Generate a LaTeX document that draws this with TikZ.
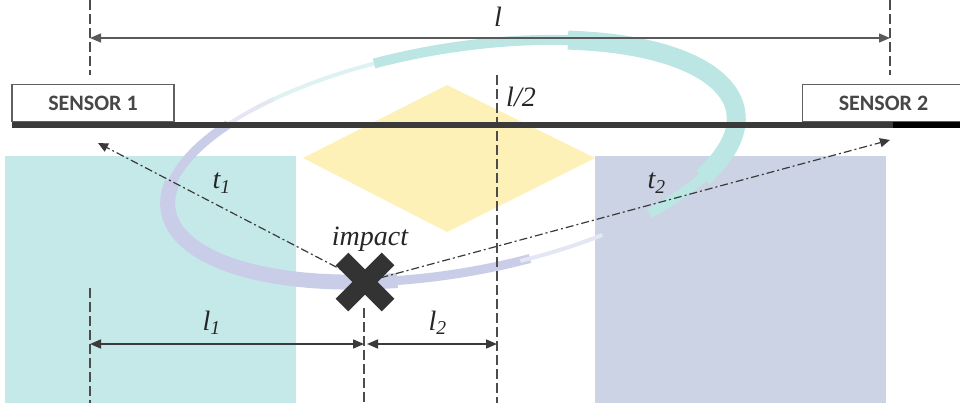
\documentclass[tikz,border=0pt]{standalone}
\usepackage{fontspec}
\setmainfont{Liberation Serif}
\newfontfamily\sensfont{Carlito}
\usetikzlibrary{arrows.meta,positioning}
\definecolor{wmteal}{HTML}{C5E9E8}
\definecolor{wmblue}{HTML}{CBD3E5}
\definecolor{wmyellow}{HTML}{FDF1B8}
\definecolor{wmring}{HTML}{BCE6E4}
\definecolor{wmlav}{HTML}{C9CDE8}
\definecolor{lineg}{HTML}{3A3A3A}

\begin{document}
\begin{tikzpicture}[x=0.5pt,y=0.5pt,
  sensor/.style={draw=lineg!80,line width=0.6pt,fill=white,minimum width=81pt,
    minimum height=18.5pt,inner sep=0pt,font=\sensfont\bfseries\fontsize{11}{13}\selectfont,text=black!72},
  lbl/.style={font=\itshape\fontsize{14}{16}\selectfont,inner sep=1pt,text=black!85},
  guide/.style={draw=black!70,line width=0.6pt,dash pattern=on 5pt off 2pt},
  dimarr/.style={{Triangle[length=5.5pt,width=4.5pt]}-{Triangle[length=5.5pt,width=4.5pt]},line width=0.8pt,lineg},
  ray/.style={-{Triangle[length=5pt,width=4.5pt]},line width=0.6pt,lineg,
    dash pattern=on 4pt off 1.5pt on 1pt off 1.5pt},
  ring/.style={line width=#1}]
  \useasboundingbox (0,0) rectangle (960,403);
  % watermark
  \fill[wmteal] (5,0) rectangle (296,247);
  \fill[wmblue] (595,0) rectangle (886,247);
  \fill[wmyellow] (303,245) -- (447,318) -- (595,245) -- (447,171) -- cycle;
  \begin{scope}[shift={(452,242)},rotate=10]
    \draw[ring=2pt,wmring!50] (130:144pt and 56pt) arc[start angle=130,end angle=100,x radius=144pt,y radius=56pt];
    \draw[ring=5pt,wmring] (102:144pt and 56pt) arc[start angle=102,end angle=60,x radius=144pt,y radius=56pt];
    \draw[ring=9.5pt,wmring] (62:144pt and 56pt) arc[start angle=62,end angle=-32,x radius=144pt,y radius=56pt];
    \draw[ring=5pt,wmring] (-30:144pt and 56pt) arc[start angle=-30,end angle=-50,x radius=144pt,y radius=56pt];
    \draw[ring=2pt,wmlav!50] (125:144pt and 56pt) arc[start angle=125,end angle=140,x radius=144pt,y radius=56pt];
    \draw[ring=4.5pt,wmlav] (138:144pt and 56pt) arc[start angle=138,end angle=168,x radius=144pt,y radius=56pt];
    \draw[ring=7.5pt,wmlav] (166:144pt and 56pt) arc[start angle=166,end angle=255,x radius=144pt,y radius=56pt];
    \draw[ring=4.5pt,wmlav] (253:144pt and 56pt) arc[start angle=253,end angle=282,x radius=144pt,y radius=56pt];
    \draw[ring=2pt,wmlav!50] (280:144pt and 56pt) arc[start angle=280,end angle=298,x radius=144pt,y radius=56pt];
  \end{scope}

  \coordinate (imp) at (365,121);
  \coordinate (tipA) at (98,260);
  \coordinate (tipB) at (890,263);
  \coordinate (lL) at (90,365);
  \coordinate (lR) at (890,365);
  \coordinate (bL) at (90,59);
  \coordinate (bM) at (364,59);
  \coordinate (bN) at (367,59);
  \coordinate (bR) at (497,59);

  \draw[guide] (90,403) -- (90,328);
  \draw[guide] (890,403) -- (890,328);
  \draw[guide] (497,328) -- (497,0);
  \draw[guide] (90,115) -- (90,0);
  \draw[guide] (364,95) -- (364,0);

  \node[sensor] (sen1) at (93,300) {SENSOR 1};
  \node[sensor] (sen2) at (883.5,300) {SENSOR 2};
  \draw[lineg,line width=3.3pt] (12,278) -- (960,278);
  \draw[black,line width=3.3pt] (893,278) -- (960,278);

  \draw[dimarr,black!65,line width=0.7pt] (lL) -- (lR);
  \node[lbl] (ltot) at (498,386) {l};
  \node[lbl] (lhalf) at (521,306) {l/2};

  \draw[ray] (imp) -- (tipA);
  \draw[ray] (imp) -- (tipB);
  \node[lbl] (tA) at (222,220) {t\textsubscript{1}};
  \node[lbl] (tB) at (657,220) {t\textsubscript{2}};

  \draw[black!80,line width=9pt] (imp) ++(-23,-23) -- ++(46,46) (imp) ++(-23,23) -- ++(46,-46);
  \node[lbl,anchor=base] (implbl) at (370,158) {impact};

  \draw[dimarr] (bL) -- (bM);
  \draw[dimarr] (bN) -- (bR);
  \node[lbl] (lA) at (212,80) {l\textsubscript{1}};
  \node[lbl] (lB) at (438,80) {l\textsubscript{2}};
\end{tikzpicture}
\end{document}
